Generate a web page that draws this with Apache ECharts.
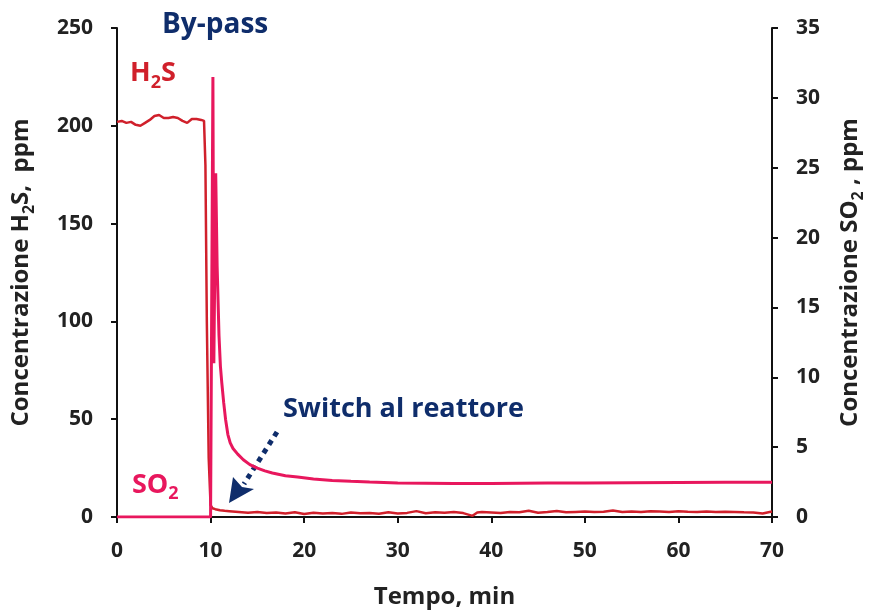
<!DOCTYPE html>
<html>
<head>
<meta charset="utf-8">
<script src="https://cdn.jsdelivr.net/npm/echarts@6/dist/echarts.min.js"></script>
<style>
html,body{margin:0;padding:0;background:#fff;}
#chart{width:869px;height:612px;}
</style>
</head>
<body>
<div id="chart"></div>
<script>
// ---- data ----
var xTicks = [0, 10, 20, 30, 40, 50, 60, 70];
var leftTicks = [0, 50, 100, 150, 200, 250];
var rightTicks = [0, 5, 10, 15, 20, 25, 30, 35];

// H2S concentration (ppm, left axis)
var timeH2S = [0,0.5,1,1.5,2,2.5,3,3.5,4,4.5,5,5.5,6,6.5,7,7.5,8,8.5,9,9.3,9.45,9.6,9.8,10.0,10.2,10.5,11,11.5,12,13,14,15,16,17,18,19,20,21,22,23,24,25,26,27,28,29,30,31,32,33,34,35,36,37,38,38.5,39,40,41,42,43,44,45,46,47,48,49,50,51,52,53,54,55,56,57,58,59,60,61,62,63,64,65,66,67,68,69,70];
var valuesH2S = [202,202.5,201.5,202,200.5,200,201.5,203,205,205.5,204,204,204.5,204,202.5,201.5,203.5,203.5,203,202.5,180,100,30,6,4.5,4,3.5,3.2,3,2.6,2.2,2.5,2.0,2.3,1.8,2.4,1.5,2.2,1.8,2.0,1.6,2.3,1.9,2.0,1.7,2.4,1.8,2.1,3.0,1.9,2.4,2.2,2.5,2.0,0.6,2.3,2.6,2.3,2.0,2.6,2.4,3.2,2.2,2.5,3.1,2.4,2.6,2.8,2.5,2.7,3.3,2.6,2.8,2.6,3.0,2.8,2.6,3.0,2.7,2.6,2.8,2.5,2.7,2.6,2.4,2.3,1.8,2.8];

// SO2 concentration (ppm, right axis)
var timeSO2 = [0,2,4,6,8,10,10.15,10.25,10.35,10.55,10.7,10.9,11.05,11.2,11.4,11.6,11.85,12.1,12.4,12.9,13.5,14.2,15,15.8,16.6,18,19.3,21,23,25,27,30,33,36,40,43,46,50,55,60,65,70];
var valuesSO2 = [0,0,0,0,0,0,0,31.5,11,24.6,18,13,10.8,9.6,8.2,7.0,5.9,5.3,4.9,4.5,4.1,3.75,3.5,3.3,3.15,2.95,2.86,2.72,2.62,2.55,2.5,2.43,2.42,2.4,2.4,2.42,2.44,2.44,2.46,2.47,2.48,2.48];

var h2sData = timeH2S.map(function (t, i) { return [t, valuesH2S[i]]; });
var so2Data = timeSO2.map(function (t, i) { return [t, valuesSO2[i]]; });

var FONT = '"Open Sans"';
var NAVY = '#0f2d6b';
var RED = '#d0202b';
var PINK = '#e8175d';
var AX = '#111';

var chart = echarts.init(document.getElementById('chart'));

function axisCommon() {
  return {
    axisLine: { show: true, lineStyle: { color: AX, width: 2 } },
    axisTick: { show: true, inside: false, length: 6, lineStyle: { color: AX, width: 2 } },
    splitLine: { show: false },
    axisLabel: { color: '#222', fontFamily: FONT, fontWeight: 'bold', fontSize: 21, margin: 24 }
  };
}

var nameRich = {
  a: { fontFamily: FONT, fontWeight: 'bold', fontSize: 24, color: '#222', lineHeight: 32 },
  s: { fontFamily: FONT, fontWeight: 'bold', fontSize: 16, color: '#222', lineHeight: 32, verticalAlign: 'bottom', padding: [10, 0, 0, 0] }
};

var xAxis = Object.assign(axisCommon(), {
  type: 'value', min: 0, max: 70, interval: 10,
  name: 'Tempo, min', nameLocation: 'middle', nameGap: 68,
  nameTextStyle: { fontFamily: FONT, fontWeight: 'bold', fontSize: 24, color: '#222' }
});

var yLeft = Object.assign(axisCommon(), {
  type: 'value', min: 0, max: 250, interval: 50, position: 'left',
  name: '{a|Concentrazione H}{s|2}{a|S,  ppm}', nameLocation: 'middle', nameGap: 80, nameRotate: 90,
  nameTextStyle: { rich: nameRich }
});

var yRight = Object.assign(axisCommon(), {
  type: 'value', min: 0, max: 35, interval: 5, position: 'right',
  name: '{a|Concentrazione SO}{s|2}{a| , ppm}', nameLocation: 'middle', nameGap: 62, nameRotate: 90,
  nameTextStyle: { rich: nameRich }
});

var option = {
  backgroundColor: '#fff',
  animation: false,
  grid: { left: 117, right: 97, top: 28, bottom: 95, containLabel: false, outerBoundsMode: 'none' },
  xAxis: xAxis,
  yAxis: [yLeft, yRight],
  series: [
    {
      name: 'H2S', type: 'line', yAxisIndex: 0, data: h2sData, showSymbol: false,
      lineStyle: { color: RED, width: 2.5 }, z: 3
    },
    {
      name: 'SO2', type: 'line', yAxisIndex: 1, data: so2Data, showSymbol: false,
      lineStyle: { color: PINK, width: 3 }, z: 4
    }
  ],
  graphic: [
    { type: 'text', left: 162, top: 11, style: { text: 'By-pass', fill: NAVY, font: 'bold 28px ' + FONT } },
    { type: 'text', left: 130, top: 60, style: {
        text: '{a|H}{s|2}{a|S}',
        rich: {
          a: { fill: RED, fontFamily: FONT, fontWeight: 'bold', fontSize: 27, lineHeight: 36 },
          s: { fill: RED, fontFamily: FONT, fontWeight: 'bold', fontSize: 18, lineHeight: 36, verticalAlign: 'bottom', padding: [12, 0, 0, 0] }
        } } },
    { type: 'text', left: 132, top: 472, style: {
        text: '{a|SO}{s|2}',
        rich: {
          a: { fill: PINK, fontFamily: FONT, fontWeight: 'bold', fontSize: 27, lineHeight: 34 },
          s: { fill: PINK, fontFamily: FONT, fontWeight: 'bold', fontSize: 18, lineHeight: 34, verticalAlign: 'bottom', padding: [12, 0, 0, 0] }
        } } },
    { type: 'text', left: 283, top: 396, style: { text: 'Switch al reattore', fill: NAVY, font: 'bold 27px ' + FONT } },
    { type: 'line', shape: { x1: 277, y1: 432, x2: 244, y2: 484 },
      style: { stroke: NAVY, lineWidth: 5, lineDash: [5, 5] } },
    { type: 'polygon', shape: { points: [[229, 503], [233, 477], [242, 487], [254, 489]] },
      style: { fill: NAVY } }
  ]
};

chart.setOption(option);
</script>
</body>
</html>
